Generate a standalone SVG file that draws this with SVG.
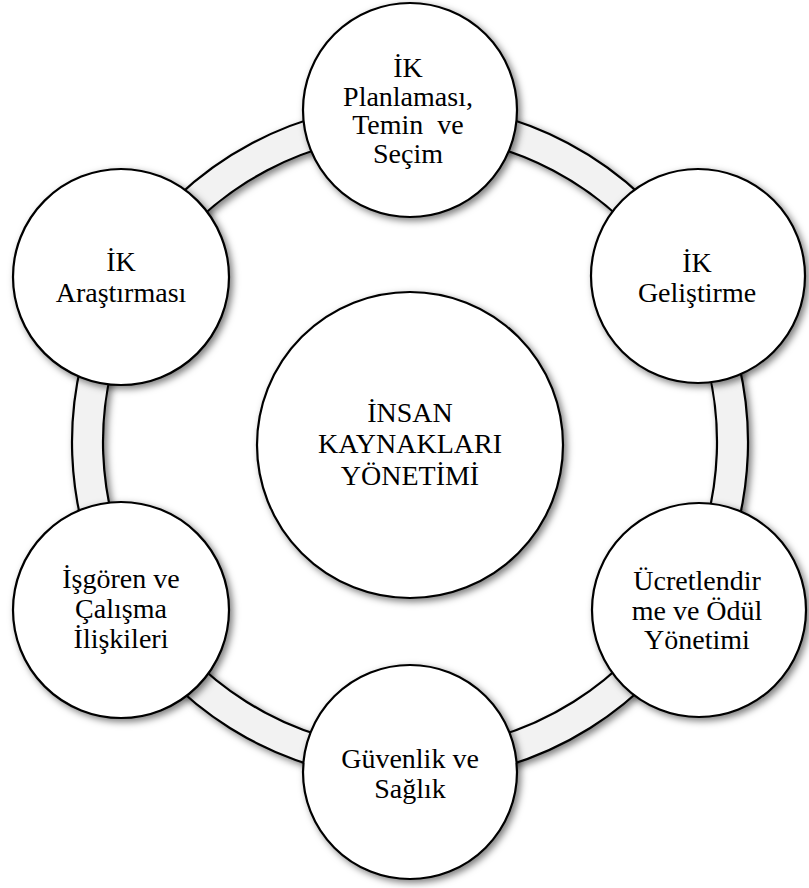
<svg xmlns="http://www.w3.org/2000/svg" width="809" height="888" viewBox="0 0 809 888">
<defs>
<filter id="sh" x="-20%" y="-20%" width="140%" height="140%">
<feDropShadow dx="3" dy="3" stdDeviation="3.5" flood-color="#000" flood-opacity="0.5"/>
</filter>
</defs>
<style>
.node circle{fill:#fff;stroke:#000;stroke-width:2.2;filter:url(#sh)}
.ring{fill:#f2f2f2;stroke:#000;stroke-width:2.2;fill-rule:evenodd;filter:url(#sh)}
text{font-family:"Liberation Serif","Times New Roman",serif;font-size:28px;fill:#000;text-anchor:middle}
</style>
<rect width="809" height="888" fill="#fff"/>
<g id="connectors">
<path class="ring" d="M410,104 a338,338 0 1,0 0.01,0 Z M410,135 a307,307 0 1,0 0.01,0 Z"/>
</g>
<g id="center" class="node">
<circle cx="410" cy="445" r="153"/>
<text x="410" y="422">İNSAN</text>
<text x="410" y="453">KAYNAKLARI</text>
<text x="410" y="485">YÖNETİMİ</text>
</g>
<g id="n-planlama" class="node">
<circle cx="410" cy="110" r="107"/>
<text x="408" y="77">İK</text>
<text x="408" y="106">Planlaması,</text>
<text x="408" y="134" xml:space="preserve">Temin  ve</text>
<text x="408" y="163">Seçim</text>
</g>
<g id="n-gelistirme" class="node">
<circle cx="698" cy="276" r="107"/>
<text x="697" y="272">İK</text>
<text x="697" y="302">Geliştirme</text>
</g>
<g id="n-ucret" class="node">
<circle cx="699" cy="610" r="107"/>
<text x="697" y="590">Ücretlendir</text>
<text x="697" y="620">me ve Ödül</text>
<text x="697" y="649">Yönetimi</text>
</g>
<g id="n-guvenlik" class="node">
<circle cx="410" cy="772" r="107"/>
<text x="410" y="768">Güvenlik ve</text>
<text x="410" y="798">Sağlık</text>
</g>
<g id="n-isgoren" class="node">
<circle cx="121" cy="610" r="108"/>
<text x="121" y="588">İşgören ve</text>
<text x="121" y="618">Çalışma</text>
<text x="121" y="648">İlişkileri</text>
</g>
<g id="n-arastirma" class="node">
<circle cx="121" cy="277" r="108"/>
<text x="121" y="271">İK</text>
<text x="121" y="302">Araştırması</text>
</g>
</svg>
